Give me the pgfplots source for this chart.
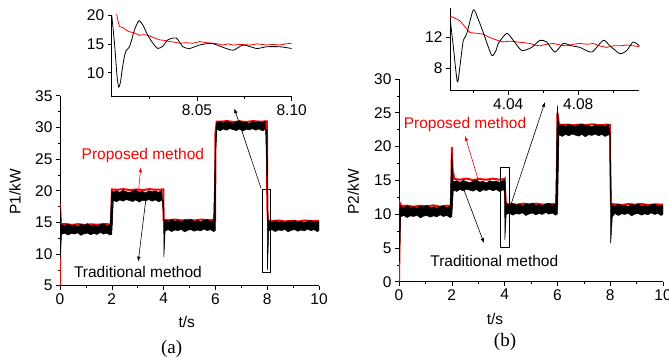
\documentclass[border=0pt]{standalone}
\usepackage{pgfplots}
\pgfplotsset{compat=1.18}
\usepackage{fontspec}
\setmainfont{Liberation Sans}
\newfontfamily\seriffont{Liberation Serif}
\usetikzlibrary{arrows.meta}
\newcommand{\fs}{\fontsize{15.5bp}{18bp}\selectfont}
\newcommand{\fsl}{\fontsize{19bp}{22bp}\selectfont}
\pgfplotsset{
  mystyle/.style={scale only axis, anchor=south west,
    axis x line*=bottom, axis y line*=left,
    tick align=outside, major tick length=4bp, minor tick length=2bp,
    tick style={black, line width=0.6bp}, axis line style={line width=0.8bp},
    font=\fs, tick label style={font=\fs},
    /pgf/number format/assume math mode=true},
}
\tikzset{arr/.style={-{Latex[length=5bp,width=3.5bp]}, line width=0.6bp}}
\begin{document}
\begin{tikzpicture}
\useasboundingbox (0,0) rectangle (669bp,-358bp);
\clip (0,0) rectangle (669bp,-358bp);

% ---------------- (a) main ----------------
\begin{axis}[mystyle, at={(60bp,-285.7bp)}, width=259bp, height=190bp,
  xmin=0, xmax=10, ymin=5, ymax=35,
  xtick={0,2,...,10}, minor x tick num=1,
  ytick={5,10,...,35}, minor y tick num=1]
\addplot[red, line width=2bp] coordinates {
(0,5) (0,18) (0.04,14.7) (0.2,14.75) (0.45,14.6) (0.7,14.72) (0.95,14.6) (1.2,14.7) (1.45,14.62) (1.7,14.75) (1.99,14.65)
(2.0,20.2) (2.2,20.15) (2.45,20.25) (2.7,20.1) (2.95,20.2) (3.2,20.1) (3.45,20.25) (3.7,20.15) (3.99,20.2)
(4.0,15.4) (4.2,15.35) (4.45,15.45) (4.7,15.3) (4.95,15.4) (5.2,15.3) (5.45,15.45) (5.7,15.35) (5.99,15.4)
(6.0,29.0) (6.05,30.9) (6.2,30.9) (6.45,31.0) (6.7,30.85) (6.95,30.95) (7.2,30.85) (7.45,31.0) (7.7,30.9) (7.99,30.95)
(8.0,20) (8.01,17) (8.03,15.3) (8.2,15.2) (8.45,15.3) (8.7,15.15) (8.95,15.25) (9.2,15.15) (9.45,15.3) (9.7,15.2) (10,15.25)
};
\addplot[fill=black, draw=black, line width=0.5bp] coordinates {
(0,9.5) (0,18.2) (0.03,14.6)
(0.06,14.65) (0.18,14.45) (0.31,14.75) (0.43,14.5) (0.56,14.6) (0.68,14.4) (0.81,14.7) (0.93,14.55) (1.06,14.8) (1.18,14.45) (1.31,14.6) (1.43,14.4) (1.56,14.65) (1.68,14.75) (1.81,14.45) (1.93,14.6)
(2.0,19.9)
(2.06,19.8) (2.18,20.0) (2.31,19.75) (2.43,20.05) (2.56,19.85) (2.68,19.7) (2.81,19.95) (2.93,20.1) (3.06,19.8) (3.18,19.9) (3.31,19.65) (3.43,20.0) (3.56,19.85) (3.68,19.95) (3.81,19.75) (3.93,20.05)
(4.0,15.3)
(4.06,15.35) (4.18,15.15) (4.31,15.45) (4.43,15.2) (4.56,15.3) (4.68,15.1) (4.81,15.4) (4.93,15.25) (5.06,15.5) (5.18,15.15) (5.31,15.3) (5.43,15.1) (5.56,15.35) (5.68,15.45) (5.81,15.15) (5.93,15.3)
(6.0,27.5) (6.04,30.6)
(6.06,30.75) (6.18,30.95) (6.31,30.7) (6.43,31.0) (6.56,30.8) (6.68,30.65) (6.81,30.9) (6.93,31.05) (7.06,30.75) (7.18,30.85) (7.31,30.6) (7.43,30.95) (7.56,30.8) (7.68,30.9) (7.81,30.7) (7.93,31.0)
(8.0,20.0) (8.03,15.3)
(8.06,15.2) (8.18,15.0) (8.31,15.3) (8.43,15.05) (8.56,15.15) (8.68,14.95) (8.81,15.25) (8.93,15.1) (9.06,15.35) (9.18,15.0) (9.31,15.15) (9.43,14.95) (9.56,15.2) (9.68,15.3) (9.81,15.0) (9.93,15.15) (10,15.1)
(10,13.7)
(9.93,13.55) (9.81,13.85) (9.68,13.7) (9.56,13.95) (9.43,13.65) (9.31,13.8) (9.18,13.6) (9.06,13.85) (8.93,13.75) (8.81,13.5) (8.68,13.9) (8.56,13.7) (8.43,13.8) (8.31,13.55) (8.18,13.85) (8.06,13.65)
(8.01,7.5) (8.0,29.6)
(7.93,29.7) (7.81,29.45) (7.68,29.75) (7.56,29.55) (7.43,29.8) (7.31,29.6) (7.18,29.7) (7.06,29.4) (6.93,29.75) (6.81,29.5) (6.68,29.65) (6.56,29.8) (6.43,29.55) (6.31,29.75) (6.18,29.45) (6.06,29.7)
(6.01,26.0) (6.0,13.7)
(5.93,13.55) (5.81,13.85) (5.68,13.7) (5.56,13.95) (5.43,13.65) (5.31,13.8) (5.18,13.6) (5.06,13.85) (4.93,13.75) (4.81,13.5) (4.68,13.9) (4.56,13.7) (4.43,13.8) (4.31,13.55) (4.18,13.85) (4.06,13.65)
(4.01,9.5) (4.0,18.4)
(3.93,18.5) (3.81,18.25) (3.68,18.55) (3.56,18.35) (3.43,18.6) (3.31,18.4) (3.18,18.5) (3.06,18.2) (2.93,18.55) (2.81,18.3) (2.68,18.45) (2.56,18.6) (2.43,18.35) (2.31,18.55) (2.18,18.25) (2.06,18.5)
(2.0,13.1)
(1.93,13.0) (1.81,13.3) (1.68,13.15) (1.56,13.4) (1.43,13.1) (1.31,13.25) (1.18,13.05) (1.06,13.3) (0.93,13.2) (0.81,12.95) (0.68,13.35) (0.56,13.15) (0.43,13.25) (0.31,13.0) (0.18,13.3) (0.06,13.1)
(0.01,9.5)
} -- cycle;
\draw[line width=0.7bp] (axis cs:7.81,7.1) rectangle (axis cs:8.13,20.2);
\draw[arr] (axis cs:7.76,20.4) -- (axis cs:6.73,33.0);
\draw[arr, red] (axis cs:3.04,20.3) -- (axis cs:3.12,23.7);
\draw[arr] (axis cs:3.35,19.8) -- (axis cs:3.02,8.8);
\node[red, font=\fs] at (axis cs:3.2,25.5) {Proposed method};
\node[font=\fs] at (axis cs:3.01,7.2) {Traditional method};
\end{axis}

% ---------------- (a) inset ----------------
\begin{axis}[mystyle, at={(111.7bp,-96.7bp)}, width=180bp, height=81.7bp,
  xmin=8.005, xmax=8.1, ymin=5.85, ymax=20,
  xtick={8.05,8.10}, xticklabels={8.05,8.10}, minor xtick={8.025,8.075},
  ytick={10,15,20}]
\addplot[red, line width=0.8bp] coordinates {
(8.0076,20.2) (8.0083,19.0) (8.0091,18.0) (8.011,17.8) (8.0125,17.4) (8.0144,17.1) (8.017,16.9) (8.0197,16.5) (8.022,16.6) (8.0249,16.4) (8.027,16.1) (8.0302,15.7) (8.033,15.6) (8.0355,15.4) (8.038,15.3) (8.0408,15.1) (8.044,15.2) (8.0479,15.1) (8.0514,15.4) (8.055,15.2) (8.0585,15.1) (8.061,15.0) (8.0638,14.8) (8.0665,15.0) (8.0691,14.8) (8.073,14.9) (8.0779,14.8) (8.082,15.0) (8.0868,14.8) (8.090,14.9) (8.0938,14.8) (8.097,15.0) (8.1,15.1)
};
\addplot[black, line width=0.8bp, smooth, tension=0.4] coordinates {
(8.005,20) (8.0065,15) (8.0078,9.5) (8.0087,7.5) (8.0097,8.5) (8.0105,10.5) (8.0117,12.8) (8.0126,13.8) (8.0144,14.5) (8.0158,16) (8.017,17.4) (8.0193,19.0) (8.0214,18.3) (8.024,16.5) (8.027,15.0) (8.0293,14.2) (8.032,14.6) (8.0346,15.7) (8.0391,16.0) (8.0426,14.5) (8.0461,14.2) (8.0514,14.8) (8.0576,15.1) (8.0629,14.5) (8.0691,13.9) (8.0744,14.8) (8.0815,14.2) (8.0868,14.5) (8.0938,14.5) (8.1,14.2)
};
\end{axis}

% ---------------- (b) main ----------------
\begin{axis}[mystyle, at={(399bp,-281.7bp)}, width=264bp, height=202.7bp,
  xmin=0, xmax=10, ymin=0, ymax=30,
  xtick={0,2,...,10}, minor x tick num=1,
  ytick={0,5,...,30}, minor y tick num=1]
\addplot[red, line width=2bp] coordinates {
(0,0) (0.04,11.6) (0.1,11.2) (0.3,11.25) (0.55,11.1) (0.8,11.25) (1.05,11.15) (1.3,11.3) (1.55,11.1) (1.8,11.25) (1.99,11.15)
(2.0,19.9) (2.03,16.5) (2.1,15.2) (2.3,15.1) (2.55,15.25) (2.8,15.05) (3.05,15.2) (3.3,15.1) (3.55,15.25) (3.8,15.1) (3.99,15.2)
(4.0,14.7) (4.05,11.5) (4.2,11.5) (4.45,11.4) (4.7,11.55) (4.95,11.45) (5.2,11.55) (5.45,11.4) (5.7,11.5) (5.99,11.45)
(6.0,25) (6.05,23.5) (6.1,23.2) (6.35,23.25) (6.6,23.15) (6.85,23.25) (7.1,23.2) (7.35,23.3) (7.6,23.15) (7.85,23.25) (7.99,23.2)
(8.0,18) (8.03,11.5) (8.2,11.45) (8.45,11.35) (8.7,11.5) (8.95,11.4) (9.2,11.5) (9.45,11.35) (9.7,11.45) (10,11.4)
};
\addplot[fill=black, draw=black, line width=0.5bp] coordinates {
(0,3) (0.03,11.4)
(0.06,11.15) (0.18,10.95) (0.31,11.25) (0.43,11.0) (0.56,11.1) (0.68,10.9) (0.81,11.2) (0.93,11.05) (1.06,11.3) (1.18,10.95) (1.31,11.1) (1.43,10.9) (1.56,11.15) (1.68,11.25) (1.81,10.95) (1.93,11.1)
(2.0,19.0) (2.03,16.0)
(2.06,14.75) (2.18,14.95) (2.31,14.7) (2.43,15.0) (2.56,14.8) (2.68,14.65) (2.81,14.9) (2.93,15.05) (3.06,14.75) (3.18,14.85) (3.31,14.6) (3.43,14.95) (3.56,14.8) (3.68,14.9) (3.81,14.7) (3.93,15.0)
(4.0,14.8) (4.02,15.6) (4.04,12.0)
(4.06,11.5) (4.18,11.3) (4.31,11.6) (4.43,11.35) (4.56,11.45) (4.68,11.25) (4.81,11.55) (4.93,11.4) (5.06,11.65) (5.18,11.3) (5.31,11.45) (5.43,11.25) (5.56,11.5) (5.68,11.6) (5.81,11.3) (5.93,11.45)
(6.0,26.1) (6.03,24.0)
(6.06,23.05) (6.18,23.25) (6.31,23.0) (6.43,23.3) (6.56,23.1) (6.68,22.95) (6.81,23.2) (6.93,23.35) (7.06,23.05) (7.18,23.15) (7.31,22.9) (7.43,23.25) (7.56,23.1) (7.68,23.2) (7.81,23.0) (7.93,23.3)
(8.0,22.0) (8.03,11.5)
(8.06,11.4) (8.18,11.2) (8.31,11.5) (8.43,11.25) (8.56,11.35) (8.68,11.15) (8.81,11.45) (8.93,11.3) (9.06,11.55) (9.18,11.2) (9.31,11.35) (9.43,11.15) (9.56,11.4) (9.68,11.5) (9.81,11.2) (9.93,11.35) (10,11.3)
(10,10.0)
(9.93,9.8) (9.81,10.1) (9.68,9.95) (9.56,10.2) (9.43,9.9) (9.31,10.05) (9.18,9.85) (9.06,10.1) (8.93,10.0) (8.81,9.75) (8.68,10.15) (8.56,9.95) (8.43,10.05) (8.31,9.8) (8.18,10.1) (8.08,9.6)
(8.02,5.7) (8.0,21.6)
(7.93,21.75) (7.81,21.5) (7.68,21.8) (7.56,21.6) (7.43,21.85) (7.31,21.65) (7.18,21.75) (7.06,21.45) (6.93,21.8) (6.81,21.55) (6.68,21.7) (6.56,21.85) (6.43,21.6) (6.31,21.8) (6.18,21.5) (6.06,21.75)
(6.0,10.0)
(5.93,9.85) (5.81,10.15) (5.68,10.0) (5.56,10.25) (5.43,9.95) (5.31,10.1) (5.18,9.9) (5.06,10.15) (4.93,10.05) (4.81,9.8) (4.68,10.2) (4.56,10.0) (4.43,10.1) (4.31,9.85) (4.18,10.15) (4.06,9.95)
(4.01,6.2) (4.0,13.5)
(3.93,13.6) (3.81,13.35) (3.68,13.65) (3.56,13.45) (3.43,13.7) (3.31,13.5) (3.18,13.6) (3.06,13.3) (2.93,13.65) (2.81,13.4) (2.68,13.55) (2.56,13.7) (2.43,13.45) (2.31,13.65) (2.18,13.35) (2.06,13.6)
(2.0,9.6)
(1.93,9.5) (1.81,9.8) (1.68,9.65) (1.56,9.9) (1.43,9.6) (1.31,9.75) (1.18,9.55) (1.06,9.8) (0.93,9.7) (0.81,9.45) (0.68,9.85) (0.56,9.65) (0.43,9.75) (0.31,9.5) (0.18,9.8) (0.06,9.6)
(0.02,3.0)
} -- cycle;
\draw[line width=0.7bp] (axis cs:3.85,5.1) rectangle (axis cs:4.17,16.9);
\draw[arr] (axis cs:4.17,10.6) -- (axis cs:5.53,26.6);
\draw[arr, red] (axis cs:3.0,15.1) -- (axis cs:2.5,21.6);
\draw[arr] (axis cs:2.44,13.8) -- (axis cs:3.22,5.7);
\node[red, font=\fs] at (axis cs:2.5,23.3) {Proposed method};
\node[font=\fs] at (axis cs:3.61,3.06) {Traditional method};
\end{axis}

% ---------------- (b) inset ----------------
\begin{axis}[mystyle, at={(450bp,-90.7bp)}, width=189.3bp, height=82.4bp,
  xmin=4.0067, xmax=4.1149, ymin=5.16, ymax=15.7,
  xtick={4.04,4.08}, xticklabels={4.04,4.08}, minor xtick={4.02,4.06,4.10},
  ytick={8,12}]
\addplot[red, line width=0.8bp] coordinates {
(4.0067,14.7) (4.009,14.5) (4.0124,14.1) (4.015,13.4) (4.0181,12.6) (4.022,12.5) (4.0257,12.4) (4.029,12.0) (4.0314,11.8) (4.034,11.6) (4.0371,11.4) (4.041,11.5) (4.0448,11.4) (4.049,11.3) (4.0524,11.2) (4.055,11.0) (4.0581,10.9) (4.062,11.1) (4.0657,11.2) (4.070,11.0) (4.0734,10.9) (4.077,11.1) (4.0810,11.2) (4.085,11.1) (4.0886,11.2) (4.092,10.9) (4.0962,10.7) (4.100,10.9) (4.1038,10.9) (4.108,11.0) (4.1149,10.8)
};
\addplot[black, line width=0.8bp, smooth, tension=0.4] coordinates {
(4.0067,14.5) (4.0085,11) (4.0109,6.3) (4.0125,8.5) (4.0143,11.6) (4.0162,12.4) (4.0200,15.5) (4.0225,14.5) (4.0257,12.6) (4.0305,9.7) (4.0330,10.3) (4.0343,11.2) (4.0391,12.5) (4.0429,11.6) (4.0477,10.3) (4.0534,10.7) (4.0581,11.6) (4.0619,11.4) (4.0667,10.1) (4.0714,11.2) (4.0762,10.9) (4.0810,10.7) (4.0877,10.1) (4.0943,11.6) (4.0981,10.9) (4.1038,9.9) (4.1077,10.3) (4.1114,11.4) (4.1149,10.9)
};
\end{axis}

% ---------------- labels ----------------
\node[font=\fs, rotate=90] at (15bp,-191.7bp) {P1/kW};
\node[font=\fs] at (186.7bp,-322bp) {t/s};
\node[font=\seriffont\fsl] at (171.7bp,-349bp) {(a)};
\node[font=\fs, rotate=90] at (353.3bp,-191.7bp) {P2/kW};
\node[font=\fs] at (495bp,-319bp) {t/s};
\node[font=\seriffont\fsl] at (505bp,-341.5bp) {(b)};
\end{tikzpicture}
\end{document}
